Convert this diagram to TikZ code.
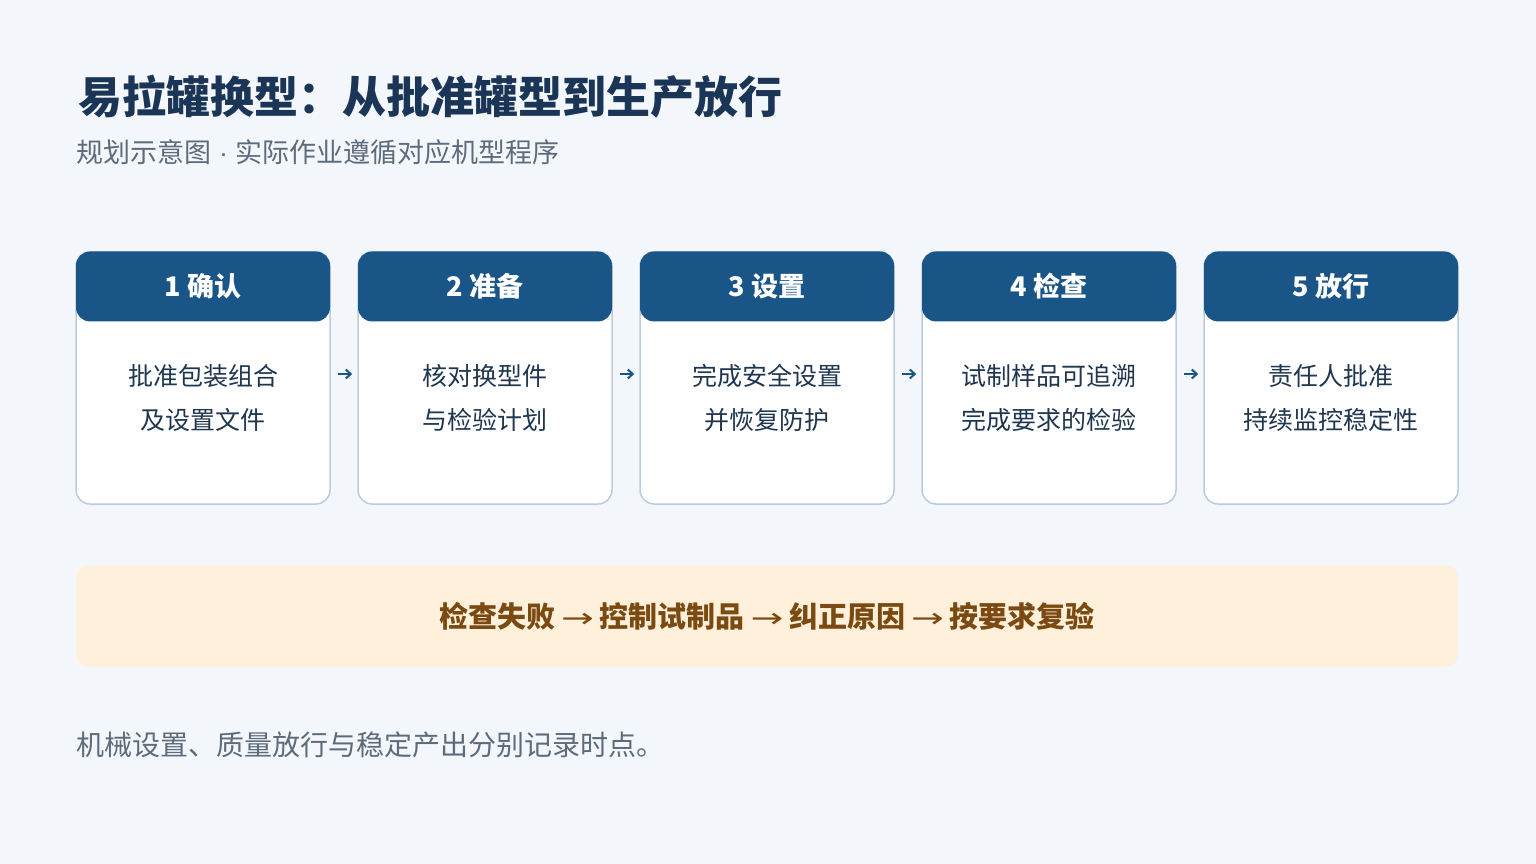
\documentclass[tikz,border=0pt]{standalone}
\usepackage{fontspec}
\setmainfont{Noto Sans CJK SC}
\newfontfamily\latinfont{Liberation Sans}
\newfontfamily\symbfont{DejaVu Sans}
\usepackage{graphicx}
\usepackage{tikz}
\usetikzlibrary{positioning,arrows.meta}

\definecolor{pagebg}{HTML}{F3F7FC}
\definecolor{titleink}{HTML}{1B3556}
\definecolor{subink}{HTML}{5E6B7B}
\definecolor{headblue}{HTML}{1A5587}
\definecolor{cardline}{HTML}{BCCCDE}
\definecolor{bodyink}{HTML}{1F3650}
\definecolor{bannerfill}{HTML}{FFF0DB}
\definecolor{bannerink}{HTML}{7B4A12}

\newcommand{\thinarrow}{\hspace{5.8pt}\scalebox{1.45}[1]{\symbfont\mdseries\fontsize{27}{30}\selectfont →}\hspace{5.8pt}}

\tikzset{
  card/.style={draw=cardline,line width=1.5pt,fill=white,rounded corners=14pt,
    minimum width=254pt,minimum height=252pt,inner sep=0pt},
  headbar/.style={fill=headblue,rounded corners=14pt,minimum width=254pt,
    minimum height=70pt,inner sep=0pt,text=white,font=\fontsize{27}{30}\selectfont\bfseries},
  bodytext/.style={text=bodyink,align=center,font=\fontsize{25}{44}\selectfont},
  flow/.style={->,draw=headblue,line width=2pt,>={Straight Barb[length=5pt,width=9pt]}},
  banner/.style={fill=bannerfill,rounded corners=12pt,minimum width=1382pt,
    minimum height=101pt,text=bannerink,font=\fontsize{29}{32}\selectfont\bfseries}
}

\begin{document}
\begin{tikzpicture}[x=1pt,y=-1pt]
\fill[pagebg] (0,0) rectangle (1536,864);
\useasboundingbox (0,0) rectangle (1536,864);
%%
\node (title) at (75,97) [anchor=west,text=titleink,font=\fontsize{44}{48}\selectfont\bfseries] {易拉罐换型：从批准罐型到生产放行};
\node (subtitle) at (73,152) [anchor=west,text=subink,font=\fontsize{27}{30}\selectfont] {规划示意图{\latinfont\ ·\ }实际作业遵循对应机型程序};
%
\foreach \i/\x/\t/\a/\b in {1/203/1 确认/批准包装组合/及设置文件,
    2/485/2 准备/核对换型件/与检验计划,
    3/767/3 设置/完成安全设置/并恢复防护,
    4/1049/4 检查/试制样品可追溯/完成要求的检验,
    5/1331/5 放行/责任人批准/持续监控稳定性} {
  \node[card] (card\i) at (\x,378) {};
  \node[headbar,anchor=north] (head\i) at (card\i.north) {\t};
  \node[bodytext] (body\i) at ([yshift=-147pt]card\i.north) {\a\\\b};
}
%
\foreach \i/\j in {1/2,2/3,3/4,4/5}
  \draw[flow,shorten <=7pt,shorten >=5pt] ([yshift=4pt]card\i.east) -- ([yshift=4pt]card\j.west);
%
\node[banner] (loop) at (767,616) {检查失败\thinarrow 控制试制品\thinarrow 纠正原因\thinarrow 按要求复验};
\node (footnote) at (73,745) [anchor=west,text=subink,font=\fontsize{28}{30}\selectfont] {机械设置、质量放行与稳定产出分别记录时点。};
%
\end{tikzpicture}
\end{document}
